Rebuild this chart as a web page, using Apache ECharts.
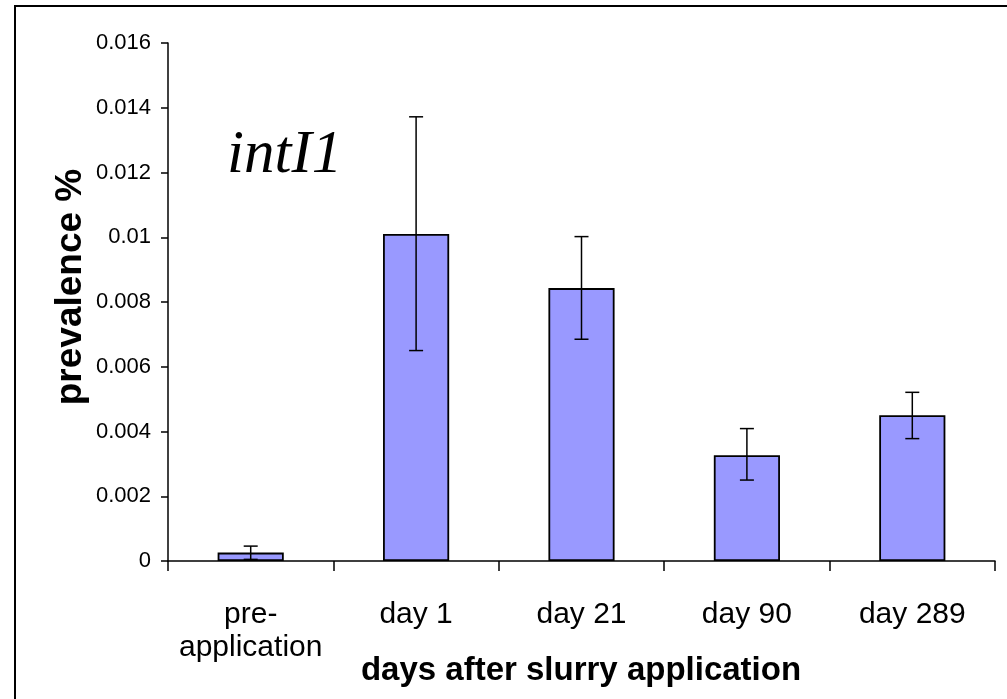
<!DOCTYPE html>
<html>
<head>
<meta charset="utf-8">
<title>intI1 prevalence</title>
<script src="https://cdn.jsdelivr.net/npm/echarts@6/dist/echarts.min.js"></script>
<style>
  html, body { margin: 0; padding: 0; background: #fff; }
  #chart { width: 1007px; height: 699px; }
</style>
</head>
<body>
<div id="chart"></div>
<script>
// 数据
var categories = ['pre-\napplication', 'day 1', 'day 21', 'day 90', 'day 289']
var prevalence = [0.00026, 0.0101, 0.00843, 0.00327, 0.0045]
var errLow = [0.00005, 0.0065, 0.00685, 0.0025, 0.00378]
var errHigh = [0.00046, 0.01372, 0.01002, 0.00409, 0.00521]
var yTicks = { min: 0, max: 0.016, interval: 0.002 }

var errData = categories.map(function (c, i) {
  return [i, errLow[i], errHigh[i]]
})

var chart = echarts.init(document.getElementById('chart'))

var option = {
  backgroundColor: '#fff',
  animation: false,
  title: {
    text: 'intI1',
    left: 222,
    top: 120,
    textStyle: {
      fontFamily: 'Liberation Serif',
      fontStyle: 'italic',
      fontWeight: 'normal',
      fontSize: 61,
      color: '#000'
    }
  },
  grid: { left: 168, right: 12, top: 43, bottom: 138, outerBoundsMode: 'none' },
  xAxis: {
    type: 'category',
    data: categories,
    axisLine: { lineStyle: { color: '#000', width: 1.5 } },
    axisTick: { show: true, interval: 0, length: 10, lineStyle: { color: '#000', width: 1.5 } },
    axisLabel: {
      interval: 0,
      fontFamily: 'Liberation Sans',
      fontSize: 30,
      lineHeight: 33,
      color: '#000',
      margin: 37
    }
  },
  yAxis: {
    type: 'value',
    min: yTicks.min,
    max: yTicks.max,
    interval: yTicks.interval,
    splitLine: { show: false },
    axisLine: { show: true, lineStyle: { color: '#000', width: 1.5 } },
    axisTick: { show: true, length: 7, lineStyle: { color: '#000', width: 1.5 } },
    axisLabel: {
      fontFamily: 'Liberation Sans',
      fontSize: 22,
      color: '#000',
      margin: 17,
      formatter: function (v) { return String(+v.toFixed(3)) }
    }
  },
  graphic: [
    {
      type: 'rect',
      shape: { x: 15, y: 6, width: 1100, height: 800 },
      style: { fill: 'none', stroke: '#000', lineWidth: 2 },
      silent: true
    },
    {
      // y 轴标题
      type: 'text',
      x: 71,
      y: 287,
      rotation: Math.PI / 2,
      style: {
        text: 'prevalence %',
        fontFamily: 'Liberation Sans',
        fontWeight: 'bold',
        fontSize: 37,
        fill: '#000',
        align: 'center',
        verticalAlign: 'middle'
      }
    },
    {
      // x 轴标题
      type: 'text',
      x: 581,
      y: 671,
      style: {
        text: 'days after slurry application',
        fontFamily: 'Liberation Sans',
        fontWeight: 'bold',
        fontSize: 33,
        fill: '#000',
        align: 'center',
        verticalAlign: 'middle'
      }
    }
  ],
  series: [
    {
      type: 'bar',
      data: prevalence,
      barWidth: '40%',
      itemStyle: { color: '#9999ff', borderColor: '#000', borderWidth: 1.8 }
    },
    {
      type: 'custom',
      data: errData,
      z: 10,
      renderItem: function (params, api) {
        var lo = api.coord([api.value(0), api.value(1)])
        var hi = api.coord([api.value(0), api.value(2)])
        var half = 7
        var st = { stroke: '#000', lineWidth: 1.5 }
        return {
          type: 'group',
          children: [
            { type: 'line', shape: { x1: hi[0], y1: hi[1], x2: lo[0], y2: lo[1] }, style: st },
            { type: 'line', shape: { x1: hi[0] - half, y1: hi[1], x2: hi[0] + half, y2: hi[1] }, style: st },
            { type: 'line', shape: { x1: lo[0] - half, y1: lo[1], x2: lo[0] + half, y2: lo[1] }, style: st }
          ]
        }
      }
    }
  ]
}

chart.setOption(option)
</script>
</body>
</html>
